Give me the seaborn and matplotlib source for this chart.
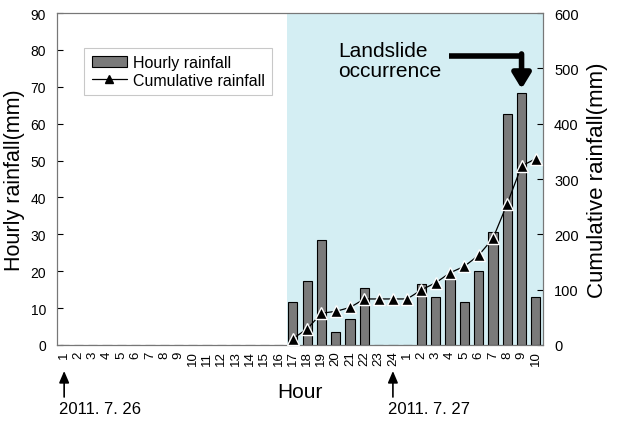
import matplotlib
matplotlib.use("Agg")
import matplotlib.pyplot as plt
import seaborn as sns
import pandas as pd
from matplotlib.lines import Line2D
from matplotlib.patches import Patch

sns.set_style("white")
plt.rcParams['font.family'] = ['Liberation Sans', 'DejaVu Sans']
for k in ['text.color', 'axes.labelcolor', 'xtick.color', 'ytick.color']:
    plt.rcParams[k] = 'black'

hour_labels = [str(h) for h in range(1, 25)] + [str(h) for h in range(1, 11)]
hourly = [0]*16 + [11.6, 17.4, 28.4, 3.4, 7.0, 15.4, 0, 0, 0, 16.5, 12.9, 17.9, 11.7, 20.0, 30.5, 62.6, 68.3, 13.0]
cumulative = [None]*16 + [11.6, 29, 57.4, 60.8, 67.8, 83.2, 83.2, 83.2, 83.2, 99.7, 112.6, 130.5, 142.2, 162.2, 192.7, 255.3, 323.6, 336.6]

pos = list(range(len(hour_labels)))
df = pd.DataFrame({"pos": pos, "hourly": hourly, "cum": cumulative})

fig = plt.figure(figsize=(6.17, 4.27), dpi=100)
ax = fig.add_axes([57/617, 1-346/427, 486/617, 332/427])
ax.axvspan(15.6, 33.5, color='#d4eef3', zorder=0, lw=0)
sns.barplot(data=df, x="pos", y="hourly", color='#7a7a7a', edgecolor='black',
            linewidth=0.8, width=0.65, saturation=1, ax=ax, zorder=2)
ax.set_xlim(-0.5, 33.5)
ax.set_ylim(0, 90)
ax.set_yticks(range(0, 91, 10))
ax.set_xticks(pos)
ax.set_xticklabels(hour_labels, rotation=90, fontsize=9.5)
ax.set_xlabel("Hour", fontsize=15, labelpad=12)
ax.set_ylabel("Hourly rainfall(mm)", fontsize=15.5, labelpad=4)
ax.tick_params(axis='y', direction='in', length=4, labelsize=10, pad=8)
ax.tick_params(axis='x', direction='in', length=3, pad=4)
for s in ax.spines.values():
    s.set_color('#777777')
    s.set_linewidth(0.8)

ax2 = ax.twinx()
sub = df.dropna()
sns.lineplot(data=sub, x="pos", y="cum", color='black', lw=0.9, marker='^',
             markersize=9, markeredgecolor='white', markeredgewidth=1.0, ax=ax2, zorder=3)
ax2.set_ylim(0, 600)
ax2.set_yticks(range(0, 601, 100))
ax2.set_ylabel("Cumulative rainfall(mm)", fontsize=16, labelpad=6)
ax2.tick_params(axis='y', direction='in', length=4, labelsize=10.5, pad=8)
ax2.set_xlim(-0.5, 33.5)
for s in ax2.spines.values():
    s.set_color('#777777')
    s.set_linewidth(0.8)

handles = [Patch(facecolor='#7a7a7a', edgecolor='black', linewidth=0.8),
           Line2D([], [], color='black', lw=0.9, marker='^', markersize=6, markerfacecolor='black')]
leg = ax2.legend(handles, ["Hourly rainfall", "Cumulative rainfall"], loc='upper left',
                 bbox_to_anchor=(0.04, 0.92), fontsize=11.5, frameon=True, fancybox=False,
                 handlelength=2.2, handletextpad=0.4, borderpad=0.45, labelspacing=0.2)
leg.get_frame().set_edgecolor('#bbbbbb')
leg.get_frame().set_linewidth(0.8)

# Landslide annotation
ax2.text(0.578, 0.915, "Landslide\noccurrence", transform=ax.transAxes, fontsize=15,
         ha='left', va='top', linespacing=1.05)
ax2.plot([26.9, 32.0], [522, 522], color='black', lw=4, solid_capstyle='butt')
ax2.annotate("", xy=(32.0, 463), xytext=(32.0, 526),
             arrowprops=dict(arrowstyle='-|>,head_width=0.55,head_length=0.9', color='black',
                             lw=4, shrinkA=0, shrinkB=0))

# Date annotations
for idx, txt in [(0, "2011. 7. 26"), (23, "2011. 7. 27")]:
    x_fig = ax.transData.transform((idx, 0))[0] / (fig.dpi * 6.17)
    ax.annotate("", xy=(x_fig, 1-372/427), xycoords='figure fraction',
                xytext=(x_fig, 1-398/427), textcoords='figure fraction',
                arrowprops=dict(arrowstyle='-|>,head_width=0.3,head_length=0.7',
                                color='black', lw=1.2, shrinkA=0, shrinkB=0),
                annotation_clip=False)
    fig.text(x_fig - 0.008, 1-410/427, txt, fontsize=12, ha='left', va='center')

fig.savefig("out.png", dpi=100)
